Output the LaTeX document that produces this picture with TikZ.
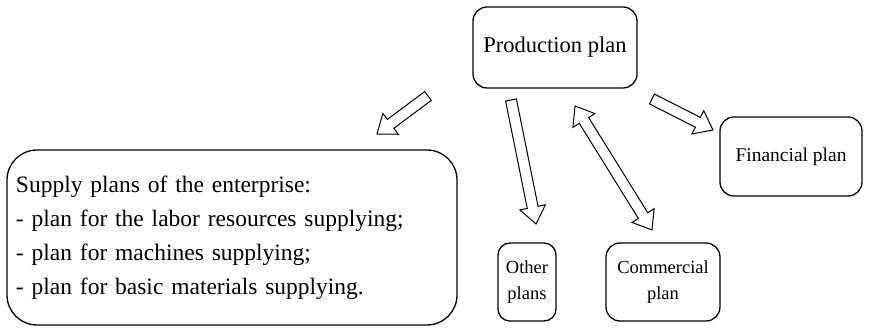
\documentclass[tikz,border=0pt]{standalone}
\usepackage{fontspec}
\setmainfont{Liberation Serif}
\usetikzlibrary{calc}

% hollow block arrow from #1 (tail) to #2 (tip)
\newcommand\hollowarrow[2]{%
  \coordinate (hb) at ($(#2)!17pt!(#1)$);
  \filldraw[arrowbody]
    ($(#1)!5.5pt!90:(#2)$) -- ($(hb)!5.5pt!-90:(#1)$) -- ($(hb)!13pt!-90:(#1)$)
    -- (#2) -- ($(hb)!13pt!90:(#1)$) -- ($(hb)!5.5pt!90:(#1)$)
    -- ($(#1)!5.5pt!-90:(#2)$) -- cycle;
}
% hollow block arrow with heads at both ends
\newcommand\hollowdoublearrow[2]{%
  \coordinate (hba) at ($(#1)!17pt!(#2)$);
  \coordinate (hbb) at ($(#2)!17pt!(#1)$);
  \filldraw[arrowbody]
    (#1) -- ($(hba)!13pt!90:(#2)$) -- ($(hba)!5.5pt!90:(#2)$)
    -- ($(hbb)!5.5pt!-90:(#1)$) -- ($(hbb)!13pt!-90:(#1)$) -- (#2)
    -- ($(hbb)!13pt!90:(#1)$) -- ($(hbb)!5.5pt!90:(#1)$)
    -- ($(hba)!5.5pt!-90:(#2)$) -- ($(hba)!13pt!-90:(#2)$) -- cycle;
}

\begin{document}
\begin{tikzpicture}[x=1pt,y=-1pt,
  planbox/.style={draw=black, line width=1.3pt, rounded corners=14pt, inner sep=0pt},
  arrowbody/.style={draw=black, fill=white, line width=1pt, line join=miter}]
\useasboundingbox (0,0) rectangle (888,328);

% plan boxes
\node[planbox, minimum width=164pt, minimum height=81pt,
      font=\fontsize{22.5}{26}\selectfont] (prod) at (555,47.5) {Production plan};
\node[planbox, rounded corners=30pt, minimum width=450pt, minimum height=175pt,
      text width=432pt, align=left, inner xsep=9pt,
      font=\fontsize{23.5}{34}\selectfont] (supply) at (232,237.5)
      {Supply plans of the enterprise:\\
       - plan for the labor resources supplying;\\
       - plan for machines supplying;\\
       - plan for basic materials supplying.};
\node[planbox, rounded corners=12pt, minimum width=58pt, minimum height=78pt,
      align=center, font=\fontsize{18.5}{26.5}\selectfont] (other) at (527,282) {Other\\plans};
\node[planbox, minimum width=114pt, minimum height=78pt,
      align=center, font=\fontsize{18.5}{26.5}\selectfont] (comm) at (663,282) {Commercial\\plan};
\node[planbox, minimum width=142pt, minimum height=79pt,
      font=\fontsize{19.5}{23}\selectfont] (fin) at (791,156.5) {Financial plan};

% arrow end points
\coordinate (supTail) at (428,96);
\coordinate (supTip)  at (377,134);
\coordinate (othTail) at (511,100);
\coordinate (othTip)  at (536,224);
\coordinate (comTop)  at (575,106);
\coordinate (comBot)  at (652,230);
\coordinate (finTail) at (652,99);
\coordinate (finTip)  at (713,130);

\hollowarrow{supTail}{supTip}
\hollowarrow{othTail}{othTip}
\hollowdoublearrow{comTop}{comBot}
\hollowarrow{finTail}{finTip}
\end{tikzpicture}
\end{document}
